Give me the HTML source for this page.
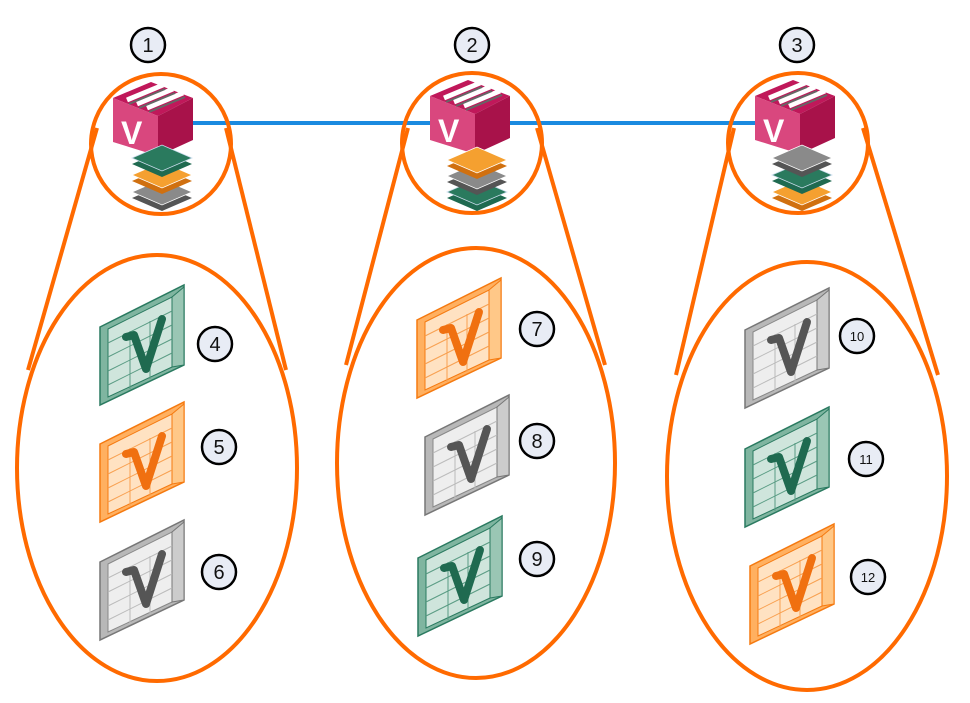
<!DOCTYPE html>
<html><head><meta charset="utf-8"><style>
html,body{margin:0;padding:0;background:#fff;width:970px;height:703px;overflow:hidden}
text{font-family:"Liberation Sans",sans-serif}
</style></head><body>
<svg width="970" height="703" viewBox="0 0 970 703" xmlns="http://www.w3.org/2000/svg">
<defs>
<g id="wallG">
 <polygon points="0,42 84,0 84,80 0,120" fill="#7fb5a0" stroke="#2a7a60" stroke-width="1.5"/>
 <polygon points="8,44 72,12 72,82 8,112" fill="#cfe5dc" stroke="#2a7a60" stroke-width="1"/>
 <polygon points="72,12 84,2 84,80 72,82" fill="#9ac6b4" stroke="#2a7a60" stroke-width="1"/>
 <path d="M8,58 L72,26 M8,72 L72,40 M8,86 L72,54 M8,100 L72,68 M30,46 L30,104 M50,36 L50,94" stroke="#5a9c84" stroke-width="1" fill="none"/>
 <path d="M26,52 L34,50 L46,84 L62,34" stroke="#1f6a50" stroke-width="8" fill="none" stroke-linejoin="round" stroke-linecap="round"/>
</g>
<g id="wallO">
 <polygon points="0,42 84,0 84,80 0,120" fill="#ffb060" stroke="#f57a10" stroke-width="1.5"/>
 <polygon points="8,44 72,12 72,82 8,112" fill="#ffe2c2" stroke="#f57a10" stroke-width="1"/>
 <polygon points="72,12 84,2 84,80 72,82" fill="#ffc888" stroke="#f57a10" stroke-width="1"/>
 <path d="M8,58 L72,26 M8,72 L72,40 M8,86 L72,54 M8,100 L72,68 M30,46 L30,104 M50,36 L50,94" stroke="#f8a050" stroke-width="1" fill="none"/>
 <path d="M26,52 L34,50 L46,84 L62,34" stroke="#f07010" stroke-width="8" fill="none" stroke-linejoin="round" stroke-linecap="round"/>
</g>
<g id="wallY">
 <polygon points="0,42 84,0 84,80 0,120" fill="#b8b8b8" stroke="#777" stroke-width="1.5"/>
 <polygon points="8,44 72,12 72,82 8,112" fill="#eeeeee" stroke="#888" stroke-width="1"/>
 <polygon points="72,12 84,2 84,80 72,82" fill="#cccccc" stroke="#777" stroke-width="1"/>
 <path d="M8,58 L72,26 M8,72 L72,40 M8,86 L72,54 M8,100 L72,68 M30,46 L30,104 M50,36 L50,94" stroke="#bbb" stroke-width="1" fill="none"/>
 <path d="M26,52 L34,50 L46,84 L62,34" stroke="#555" stroke-width="8" fill="none" stroke-linejoin="round" stroke-linecap="round"/>
</g>
<g id="cube">
 <polygon points="0,16 38,0 80,16 45,34" fill="#c0185a"/>
 <path d="M14,18 L50,3 M24,22 L60,7 M34,26 L70,11" stroke="#fff" stroke-width="5"/>
 <path d="M16,22 L52,7 M26,26 L62,11 M36,30 L72,15" stroke="#666" stroke-width="2"/>
 <polygon points="0,16 45,34 45,74 0,60" fill="#d9477e"/>
 <polygon points="45,34 80,16 80,58 45,74" fill="#a8124a"/>
 <text x="8" y="62" font-size="32" font-weight="bold" fill="#fff">V</text>
</g>
<g id="lG"><polygon points="-30,6 0,-7 30,6 0,19" fill="#1f6a50"/><polygon points="-30,0 0,-13 30,0 0,13" fill="#2a7a5e" stroke="#cde" stroke-width="0.8"/></g>
<g id="lO"><polygon points="-30,6 0,-7 30,6 0,19" fill="#d07010"/><polygon points="-30,0 0,-13 30,0 0,13" fill="#f5a030" stroke="#fff" stroke-width="0.8"/></g>
<g id="lY"><polygon points="-30,6 0,-7 30,6 0,19" fill="#555"/><polygon points="-30,0 0,-13 30,0 0,13" fill="#8a8a8a" stroke="#fff" stroke-width="0.8"/></g>
</defs>

<line x1="190" y1="123" x2="765" y2="123" stroke="#1a8ae0" stroke-width="4"/>

<g fill="none" stroke="#ff6a00" stroke-width="4">
 <circle cx="161" cy="144" r="70"/>
 <circle cx="472" cy="143" r="70"/>
 <circle cx="798" cy="143" r="70"/>
 <ellipse cx="157" cy="468" rx="140" ry="213"/>
 <ellipse cx="476" cy="463" rx="139" ry="215"/>
 <ellipse cx="807" cy="476" rx="140" ry="214"/>
 <line x1="97" y1="128" x2="28" y2="370"/>
 <line x1="226" y1="128" x2="286" y2="370"/>
 <line x1="408" y1="128" x2="346" y2="365"/>
 <line x1="537" y1="128" x2="605" y2="365"/>
 <line x1="734" y1="128" x2="676" y2="375"/>
 <line x1="863" y1="128" x2="938" y2="375"/>
</g>

<use href="#cube" x="113" y="82"/>
<use href="#lY" x="162" y="192"/><use href="#lO" x="162" y="175"/><use href="#lG" x="162" y="158"/>
<use href="#cube" x="430" y="80"/>
<use href="#lG" x="477" y="192"/><use href="#lY" x="477" y="176"/><use href="#lO" x="477" y="160"/>
<use href="#cube" x="755" y="80"/>
<use href="#lO" x="802" y="192"/><use href="#lG" x="802" y="175"/><use href="#lY" x="802" y="158"/>

<use href="#wallG" x="100" y="285"/>
<use href="#wallO" x="100" y="402"/>
<use href="#wallY" x="100" y="520"/>
<use href="#wallO" x="417" y="278"/>
<use href="#wallY" x="425" y="395"/>
<use href="#wallG" x="418" y="516"/>
<use href="#wallY" x="745" y="288"/>
<use href="#wallG" x="745" y="407"/>
<use href="#wallO" x="750" y="524"/>

<g fill="#e8ecf5" stroke="#000" stroke-width="2.5">
 <circle cx="148" cy="45" r="17"/><circle cx="472" cy="45" r="17"/><circle cx="797" cy="45" r="17"/>
 <circle cx="215" cy="344" r="17"/><circle cx="219" cy="447" r="17"/><circle cx="219" cy="572" r="17"/>
 <circle cx="537" cy="329" r="17"/><circle cx="537" cy="441" r="17"/><circle cx="537" cy="559" r="17"/>
 <circle cx="857" cy="336" r="17"/><circle cx="866" cy="459" r="17"/><circle cx="868" cy="577" r="17"/>
</g>
<g font-size="20" text-anchor="middle" fill="#111">
 <text x="148" y="52">1</text><text x="472" y="52">2</text><text x="797" y="52">3</text>
 <text x="215" y="351">4</text><text x="219" y="454">5</text><text x="219" y="579">6</text>
 <text x="537" y="336">7</text><text x="537" y="448">8</text><text x="537" y="566">9</text>
</g>
<g font-size="13" text-anchor="middle" fill="#111">
 <text x="857" y="341">10</text><text x="866" y="464">11</text><text x="868" y="582">12</text>
</g>
</svg>
</body></html>
